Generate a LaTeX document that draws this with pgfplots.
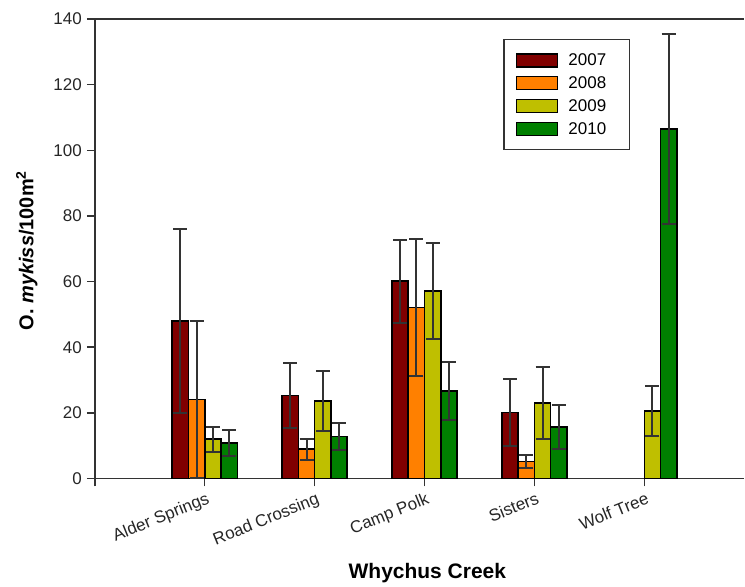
\documentclass[border=0pt]{standalone}
\usepackage{pgfplots}
\pgfplotsset{compat=1.18}
\usepackage{fontspec}
\setmainfont{Liberation Sans}
\definecolor{c07}{HTML}{800000}
\definecolor{c08}{HTML}{FF8000}
\definecolor{c09}{HTML}{BFBF00}
\definecolor{c10}{HTML}{008000}
\definecolor{axc}{HTML}{333333}

\pgfplotstableread{
x y e
1 48.0 28.0
2 25.3 10.0
3 60.1 12.7
4 20.1 10.1
}\tA
\pgfplotstableread{
x y e
1 24.1 23.8
2 8.9 3.2
3 52.1 20.8
4 5.2 2.0
}\tB
\pgfplotstableread{
x y e
1 12.0 3.8
2 23.6 9.1
3 57.1 14.5
4 23.0 11.0
5 20.5 7.7
}\tC
\pgfplotstableread{
x y e
1 10.8 4.0
2 12.8 4.0
3 26.7 8.9
4 15.6 6.7
5 106.5 29.0
}\tD

\newcommand{\legtxt}[1]{\makebox[49pt][l]{\hspace{5pt}#1}}

\begin{document}
\begin{tikzpicture}
\path (-95pt,-106pt) rectangle (650pt,479pt);
\begin{axis}[
  at={(0pt,0pt)}, anchor=south west,
  scale only axis, width=650pt, height=460pt,
  xmin=0, xmax=5.909, ymin=0, ymax=140,
  axis x line*=bottom, axis y line*=left,
  axis line style={axc, line width=1.6pt},
  ybar=0pt, bar width=0.148,
  xtick={0,1,2,3,4,5},
  xticklabels={,Alder Springs,Road Crossing,Camp Polk,Sisters,Wolf Tree},
  ytick={0,20,...,140},
  tick align=outside, major tick length=8pt,
  tick style={axc, line width=1.4pt},
  /pgf/number format/assume math mode=true,
  tick label style={font=\fontsize{17}{20}\selectfont, text=black!85},
  xticklabel style={rotate=22, anchor=north east, inner sep=2pt, yshift=-3pt, xshift=1pt},
  yticklabel style={inner sep=5pt},
  xlabel={\bfseries Whychus Creek},
  xlabel style={font=\fontsize{21}{24}\selectfont, at={(axis description cs:0.512,0)}, anchor=center, yshift=-95pt},
  ylabel={\bfseries O. \textit{mykiss}/100m\textsuperscript{2}},
  ylabel style={font=\fontsize{20}{23}\selectfont, at={(axis description cs:-0.105,0.496)}, anchor=center},
  legend style={at={(axis description cs:0.629,0.9565)}, anchor=north west,
    draw=axc, line width=1.4pt, font=\fontsize{17}{20}\selectfont,
    inner xsep=12pt, inner ysep=12pt, row sep=5.5pt, cells={anchor=west},
    nodes={inner xsep=5pt}},
  legend image code/.code={\draw[#1, line width=1.5pt, draw=black] (0pt,-6.5pt) rectangle (41pt,6.5pt);},
]
\addplot[draw=black, line width=1.6pt, fill=c07, error bars/.cd, y dir=both, y explicit, error bar style={line width=2pt, draw=axc}, error mark options={rotate=90, line width=2pt, mark size=7pt, draw=axc}] table[x=x, y=y, y error=e]{\tA};
\addplot[draw=black, line width=1.6pt, fill=c08, error bars/.cd, y dir=both, y explicit, error bar style={line width=2pt, draw=axc}, error mark options={rotate=90, line width=2pt, mark size=7pt, draw=axc}] table[x=x, y=y, y error=e]{\tB};
\addplot[draw=black, line width=1.6pt, fill=c09, error bars/.cd, y dir=both, y explicit, error bar style={line width=2pt, draw=axc}, error mark options={rotate=90, line width=2pt, mark size=7pt, draw=axc}] table[x=x, y=y, y error=e]{\tC};
\addplot[draw=black, line width=1.6pt, fill=c10, error bars/.cd, y dir=both, y explicit, error bar style={line width=2pt, draw=axc}, error mark options={rotate=90, line width=2pt, mark size=7pt, draw=axc}] table[x=x, y=y, y error=e]{\tD};
\legend{\legtxt{2007},\legtxt{2008},\legtxt{2009},\legtxt{2010}}
\draw[axc, line width=1.6pt] (rel axis cs:0,1) -- (rel axis cs:1,1);
\end{axis}
\end{tikzpicture}
\end{document}
